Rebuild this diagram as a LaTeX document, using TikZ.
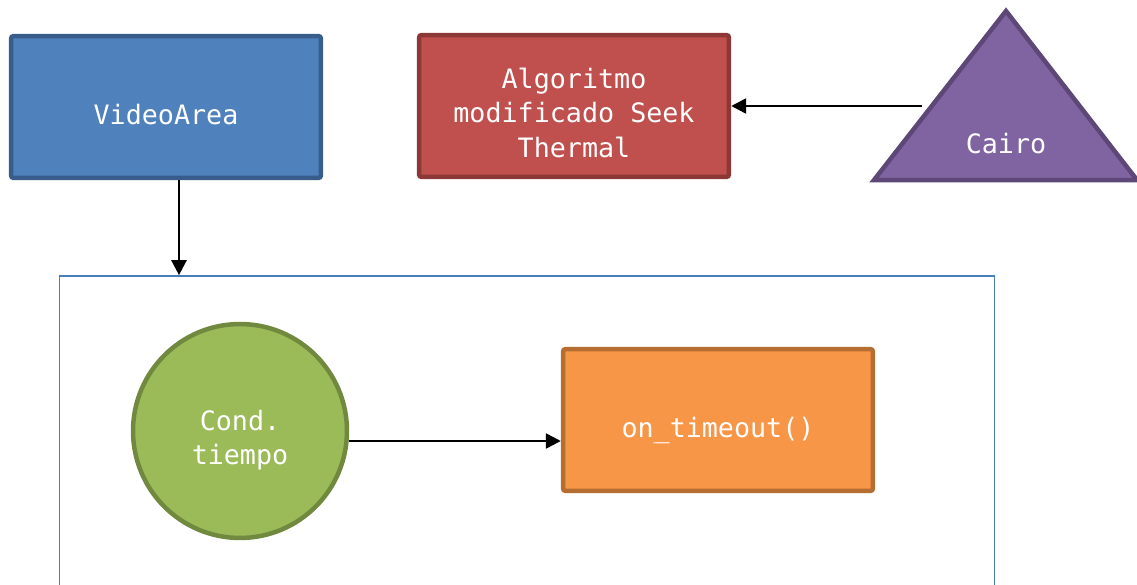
\documentclass[tikz,border=0pt]{standalone}
\usepackage{fontspec}
\setmonofont{DejaVu Sans Mono}
\usetikzlibrary{arrows.meta}

\definecolor{vidfill}{HTML}{4F81BD}
\definecolor{vidline}{HTML}{385D8A}
\definecolor{algfill}{HTML}{C0504D}
\definecolor{algline}{HTML}{8C3836}
\definecolor{caifill}{HTML}{8064A2}
\definecolor{cailine}{HTML}{5C4776}
\definecolor{condfill}{HTML}{9BBB59}
\definecolor{condline}{HTML}{71893F}
\definecolor{tofill}{HTML}{F79646}
\definecolor{toline}{HTML}{B66D31}
\definecolor{panelline}{HTML}{4A7EBB}

% extra room above the first line, so the text sits a bit low
\newcommand{\toproom}[1]{\rule{0pt}{#1}}

\tikzset{
    label text/.style={text=white, align=center, font=\ttfamily\fontsize{15.2}{19.6}\selectfont},
    block/.style={label text, draw, line width=0.09cm, rounded corners=1.5pt,
        minimum width=6.2cm, minimum height=2.84cm},
    flow/.style={line width=0.05cm, -{Triangle[length=0.3cm,width=0.3cm]}}
}

\begin{document}
\begin{tikzpicture}[x=0.02cm,y=-0.02cm]
    \useasboundingbox (0,0) rectangle (1137,585);
    \clip (0,0) rectangle (1137,585);

    % outer frame, runs off the bottom
    \node (panel) at (527,476) [draw=panelline, line width=0.035cm,
        minimum width=18.7cm, minimum height=8cm] {};

    \node (videoarea) at (166,107) [block, fill=vidfill, draw=vidline]
        {\toproom{20.5pt}VideoArea};
    \node (algoritmo) at (574,106) [block, fill=algfill, draw=algline]
        {\toproom{19.5pt}Algoritmo\\modificado Seek\\Thermal};

    % Cairo triangle
    \draw[fill=caifill, draw=cailine, line width=0.09cm]
        (1006,11) -- (1137,180) -- (874,180) -- cycle;
    \node (cairo) at (1006,144) [label text] {Cairo};
    \coordinate (cairo-in) at (922,106);

    \node (cond) at (240,431) [circle, draw=condline, fill=condfill, line width=0.09cm,
        minimum size=4.28cm, label text] {\toproom{22pt}Cond.\\tiempo};
    \node (timeout) at (718,420) [block, fill=tofill, draw=toline]
        {\toproom{23pt}on\_timeout()};

    \draw[flow] (cairo-in) -- (algoritmo.east |- cairo-in);
    \draw[flow] (videoarea.south -| 179,0) -- (panel.north -| 179,0);
    \draw[flow] ([yshift=-0.2cm]cond.east) -- ([yshift=-0.2cm]cond.east -| timeout.west);
\end{tikzpicture}
\end{document}
